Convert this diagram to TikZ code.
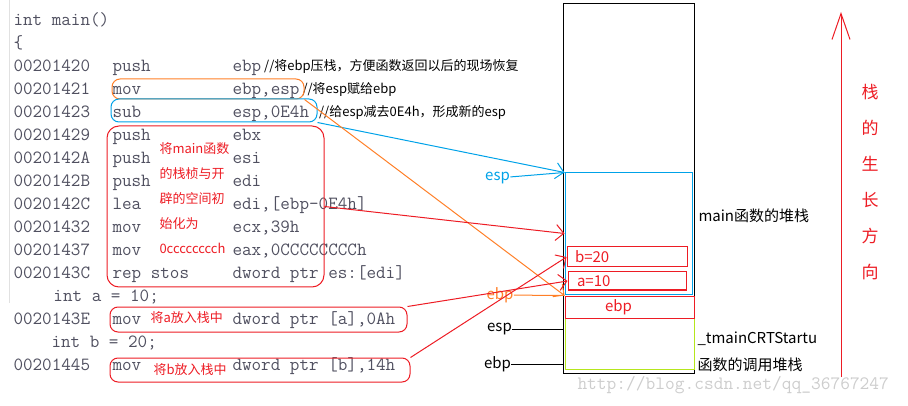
\documentclass[tikz,border=0pt]{standalone}
\usepackage{fontspec}
\usepackage{tikz}
\usetikzlibrary{matrix,arrows.meta}
\newfontfamily\cjk{Noto Sans CJK SC}
\definecolor{paintred}{RGB}{237,28,36}
\definecolor{paintorange}{RGB}{255,127,39}
\definecolor{paintblue}{RGB}{0,162,232}
\definecolor{paintlime}{RGB}{181,230,29}
\definecolor{codegray}{RGB}{80,80,96}
\definecolor{wmgray}{RGB}{205,205,205}

\begin{document}
\begin{tikzpicture}[x=1pt, y=-1pt, line width=1pt,
		code/.style={font=\ttfamily\fontsize{18.6}{22}\selectfont, text=codegray, inner sep=0pt, anchor=base west},
		note/.style={font=\cjk\fontsize{13}{15}\selectfont, inner sep=0pt},
		hint/.style={note, text=paintred},
		lbl/.style={font=\cjk\fontsize{15}{18}\selectfont, inner sep=0pt},
		cell/.style={draw, inner sep=0pt},
		ring/.style={draw=paintred, rounded corners=8pt, inner sep=0pt},
		ptr/.style={-{Straight Barb[length=8pt,width=16pt]}}]
			\useasboundingbox (0,0) rectangle (908,406);
			\draw[wmgray!60] (9,0) -- (9,303);
			\matrix (code) [matrix of nodes, nodes={code},
				row sep={23pt,between origins}, column sep={99pt,between origins},
				matrix anchor=code-1-1.base west] at (13,25)
			{
				int main()                  &          &[21pt]                 \\
				\{                          &          &                       \\
				00201420                    & push     & ebp                   \\
				00201421                    & mov      & ebp,esp               \\
				00201423                    & sub      & esp,0E4h              \\
				00201429                    & push     & ebx                   \\
				0020142A                    & push     & esi                   \\
				0020142B                    & push     & edi                   \\
				0020142C                    & lea      & edi,[ebp-0E4h]        \\
				00201432                    & mov      & ecx,39h               \\
				00201437                    & mov      & eax,0CCCCCCCCh        \\
				0020143C                    & rep stos & dword ptr es:[edi]    \\
				\hspace*{40pt}int a = 10;   &          &                       \\
				0020143E                    & mov      & dword ptr [a],0Ah     \\
				\hspace*{38pt}int b = 20;   &          &                       \\
				00201445                    & mov      & dword ptr [b],14h     \\
			};
			\node[note, anchor=base west] (c1) at ([xshift=2pt]code-3-3.base east) {//将ebp压栈，方便函数返回以后的现场恢复};
			\node[note, anchor=base west] (c2) at ([xshift=2pt]code-4-3.base east) {//将esp赋给ebp};
			\node[note, anchor=base west] (c3) at ([xshift=9pt]code-5-3.base east) {//给esp减去0E4h，形成新的esp};
			\node[ring, draw=paintorange, minimum width=192pt, minimum height=20pt] (movbox) at (208,89) {};
			\node[ring, draw=paintblue, minimum width=206pt, minimum height=23pt] (subbox) at (214,110.5) {};
			\node[ring, rounded corners=12pt, minimum width=217pt, minimum height=161pt] (initbox) at (215.5,206.5) {};
			\node[ring, minimum width=297pt, minimum height=25pt] (abox) at (258.5,319.5) {};
			\node[ring, minimum width=300pt, minimum height=24pt] (bbox) at (260,370) {};
			\node[hint, align=left, anchor=west, font=\cjk\fontsize{13}{25}\selectfont] (inithint) at (159,198)
				{将main函数\\的栈桢与开\\辟的空间初\\始化为\\0cccccccch};
			\node[hint, anchor=west] (ahint) at (150,318) {将a放入栈中};
			\node[hint, anchor=west] (bhint) at (153,370) {将b放入栈中};
			\node[cell, minimum width=131pt, minimum height=369pt] (stack) at (628.5,188.5) {};
			\node[cell, draw=paintblue, minimum width=127pt, minimum height=121pt] (mainframe) at (628.5,233.5) {};
			\node[cell, draw=paintlime, minimum width=129pt, minimum height=73pt] (crtframe) at (629.5,332.5) {};
			\node[cell, lbl, draw=paintred, text=paintred, minimum height=22pt, text width=49pt, inner xsep=40pt, align=left] (ebpbox) at (629.5,307) {ebp};
			\node[cell, lbl, draw=paintred, text=paintred, minimum height=20pt, text width=104pt, inner xsep=8pt, align=left] (bval) at (627,257) {b=20};
			\node[cell, lbl, draw=paintred, text=paintred, minimum height=18pt, text width=100pt, inner xsep=9pt, align=left] (aval) at (627,281) {a=10};
			\node[lbl, text=paintblue] (esplbl) at (497.5,178) {esp};
			\node[lbl, text=paintorange] (ebplbl) at (500,295) {ebp};
			\node[lbl] (espold) at (499.5,329) {esp};
			\node[lbl] (ebpold) at (497.5,364) {ebp};
			\node[lbl, anchor=west] (mainlbl) at (698,216) {main函数的堆栈};
			\node[lbl, anchor=west] (crtlbl) at (697,339) {\_tmainCRTStartu};
			\node[lbl, anchor=west] (crtlbl2) at (697,365) {函数的调用堆栈};
			\node[lbl, text=paintred, align=center, font=\cjk\fontsize{17}{36}\selectfont] (grow) at (870,182) {栈\\的\\生\\长\\方\\向};
			\coordinate (growlo) at (841,377);
			\coordinate (growhi) at (841,12);
			\node[font=\ttfamily\fontsize{18.9}{20}\selectfont, text=wmgray, inner sep=0pt, anchor=base west] (wm) at (577,389) {http://blog.csdn.net/qq\_36767247};
			\path[ptr]
			(subbox.south east) edge[paintblue] (mainframe.north west)
			(esplbl) edge[paintblue, -] (mainframe.north west)
			(movbox.south east) edge[paintorange] (ebpbox.north west)
			(ebplbl) edge[paintorange, -] (ebpbox.north west)
			(initbox.east) edge[paintred] (mainframe.west)
			(abox.north east) edge[paintred] (aval.west)
			(bbox.north east) edge[paintred] (bval.west)
			(espold) edge[-] (espold -| stack.west)
			(ebpold) edge[-] (ebpold -| stack.west)
			(growlo) edge[paintred, -{Straight Barb[length=26pt,width=18pt]}] (growhi);
		\end{tikzpicture}
\end{document}
